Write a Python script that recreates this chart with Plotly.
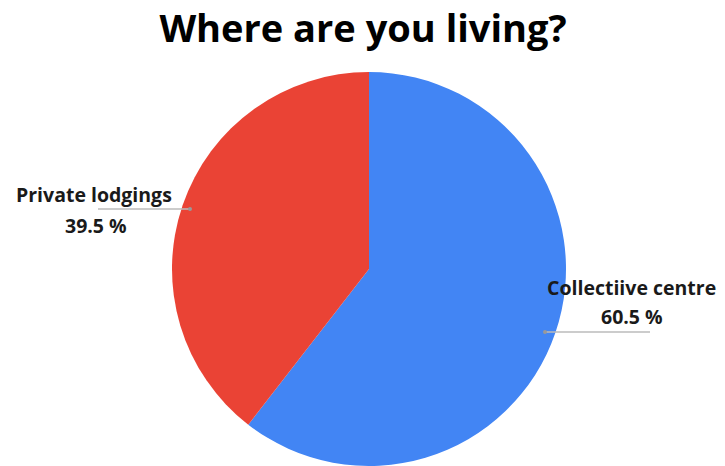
import plotly.graph_objects as go

labels = ["Collectiive centre", "Private lodgings"]
values = [60.5, 39.5]
colors = ["#4285F4", "#EA4335"]

W, H = 725, 466
fig = go.Figure(go.Pie(
    labels=labels, values=values, sort=False, direction="clockwise", rotation=0,
    marker=dict(colors=colors, line=dict(width=0)),
    textinfo="none", hoverinfo="label+percent",
    domain=dict(x=[171/W, 567/W], y=[0, 394/H]),
    showlegend=False,
))

font_lbl = dict(family="Open Sans", size=19.5, color="#1a1a1a")

def lbl(x, y, txt):
    fig.add_annotation(x=x/W, y=1-y/H, xref="paper", yref="paper", xanchor="center", yanchor="middle",
                       text=f"<b>{txt}</b>", showarrow=False, font=font_lbl)

lbl(94, 194, labels[1])
lbl(96, 225, f"{values[1]} %")
lbl(631, 287, labels[0])
lbl(632, 316, f"{values[0]} %")

# leader lines
fig.add_shape(type="line", xref="paper", yref="paper", x0=98/W, x1=190/W, y0=1-209/H, y1=1-209/H,
              line=dict(color="#bbbbbb", width=1.5))
fig.add_shape(type="line", xref="paper", yref="paper", x0=545/W, x1=650/W, y0=1-332/H, y1=1-332/H,
              line=dict(color="#bbbbbb", width=1.5))
fig.add_shape(type="circle", xref="paper", yref="paper", x0=188/W, x1=192/W, y0=1-211/H, y1=1-207/H,
              fillcolor="#999999", line=dict(width=0))
fig.add_shape(type="circle", xref="paper", yref="paper", x0=543/W, x1=547/W, y0=1-334/H, y1=1-330/H,
              fillcolor="#999999", line=dict(width=0))

fig.update_layout(
    width=W, height=H, margin=dict(l=0, r=0, t=0, b=0),
    paper_bgcolor="white", plot_bgcolor="white",
    title=dict(text="<b>Where are you living?</b>", x=363/W, xanchor="center", y=1-29/H, yanchor="middle",
               font=dict(family="Open Sans", size=38, color="#000000")),
)
fig.write_html("out.html")
